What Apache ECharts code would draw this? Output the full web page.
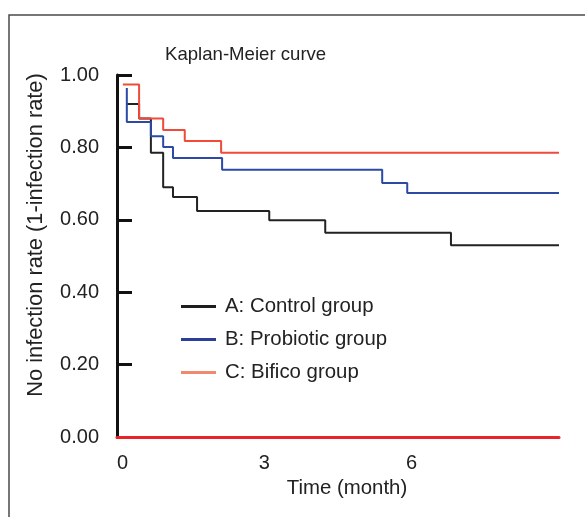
<!doctype html>
<html>
<head>
<meta charset="utf-8">
<title>Kaplan-Meier curve</title>
<script src="https://cdn.jsdelivr.net/npm/echarts@6/dist/echarts.min.js"></script>
<style>
  html, body { margin: 0; padding: 0; background: #fff; }
  #chart { width: 585px; height: 517px; }
</style>
</head>
<body>
<div id="chart"></div>
<script>
// step points: [time (month), no-infection rate]
var controlTimes = [0.2, 0.45, 0.69, 0.94, 1.14, 1.63, 3.10, 4.24, 6.80, 9];
var controlRates = [0.92, 0.88, 0.785, 0.69, 0.663, 0.624, 0.599, 0.564, 0.53, 0.53];

var probioticTimes = [0.2, 0.2, 0.69, 0.94, 1.14, 2.14, 5.40, 5.91, 9];
var probioticRates = [0.964, 0.87, 0.831, 0.801, 0.771, 0.738, 0.702, 0.674, 0.674];

var bificoTimes = [0.12, 0.45, 0.94, 1.38, 2.12, 9];
var bificoRates = [0.974, 0.88, 0.848, 0.818, 0.785, 0.785];

var groupNames = ['A: Control group', 'B: Probiotic group', 'C: Bifico group'];

function zip(xs, ys) {
    return xs.map(function (x, i) { return [x, ys[i]]; });
}

var font = '"Liberation Sans", Arial, sans-serif';
var chart = echarts.init(document.getElementById('chart'));

chart.setOption({
    animation: false,
    textStyle: { fontFamily: font },
    title: {
        text: 'Kaplan-Meier curve',
        left: 160,
        top: 40,
        textStyle: { fontSize: 18.6, fontWeight: 'normal', color: '#222', fontFamily: font }
    },
    grid: { left: 117, right: 26, top: 75, bottom: 80 },
    legend: {
        orient: 'vertical',
        left: 176,
        top: 291,
        icon: 'rect',
        itemWidth: 35,
        itemHeight: 3,
        itemGap: 12,
        textStyle: { fontSize: 20.4, color: '#222', lineHeight: 21, padding: [0, 0, 0, 4], fontFamily: font },
        data: [
            { name: groupNames[0], itemStyle: { color: '#1e1e1e' } },
            { name: groupNames[1], itemStyle: { color: '#2b3f98' } },
            { name: groupNames[2], itemStyle: { color: '#f2886c' } }
        ]
    },
    xAxis: {
        type: 'value',
        min: 0,
        max: 9,
        interval: 3,
        z: 3,
        name: 'Time (month)',
        nameLocation: 'middle',
        nameGap: 35,
        nameTextStyle: { fontSize: 20.4, color: '#222', padding: [0, 0, 0, 18], fontFamily: font },
        axisLine: { show: true, lineStyle: { color: '#e8232a', width: 3 } },
        axisTick: { show: false },
        splitLine: { show: false },
        axisLabel: {
            fontSize: 20, color: '#222', margin: 16, fontFamily: font,
            alignMinLabel: 'left',
            formatter: function (v) { return v === 9 ? '' : String(v); }
        }
    },
    yAxis: {
        type: 'value',
        min: 0,
        max: 1,
        interval: 0.2,
        axisLine: { show: true, lineStyle: { color: '#111', width: 3 } },
        axisTick: { show: true, inside: true, length: 15, lineStyle: { color: '#111', width: 3 } },
        splitLine: { show: false },
        axisLabel: {
            fontSize: 20, color: '#222', margin: 18, fontFamily: font,
            formatter: function (v) { return v.toFixed(2); }
        }
    },
    graphic: [
        {
            type: 'rect',
            shape: { x: 9, y: 15, width: 620, height: 560 },
            style: { fill: 'none', stroke: '#4a4a4a', lineWidth: 1.5 },
            silent: true
        },
        {
            type: 'text',
            x: 36,
            y: 235,
            rotation: Math.PI / 2,
            style: {
                text: 'No infection rate (1-infection rate)',
                font: '21.8px ' + font,
                fill: '#222',
                align: 'center',
                verticalAlign: 'middle'
            }
        }
    ],
    series: [
        {
            name: groupNames[0], type: 'line', step: 'end', showSymbol: false,
            lineStyle: { color: '#222', width: 2 }, itemStyle: { color: '#1e1e1e' },
            data: zip(controlTimes, controlRates)
        },
        {
            name: groupNames[1], type: 'line', step: 'end', showSymbol: false,
            lineStyle: { color: '#2c4aa4', width: 2 }, itemStyle: { color: '#2b3f98' },
            data: zip(probioticTimes, probioticRates)
        },
        {
            name: groupNames[2], type: 'line', step: 'end', showSymbol: false,
            lineStyle: { color: '#ef4a3a', width: 2 }, itemStyle: { color: '#f2886c' },
            data: zip(bificoTimes, bificoRates)
        }
    ]
});
</script>
</body>
</html>
